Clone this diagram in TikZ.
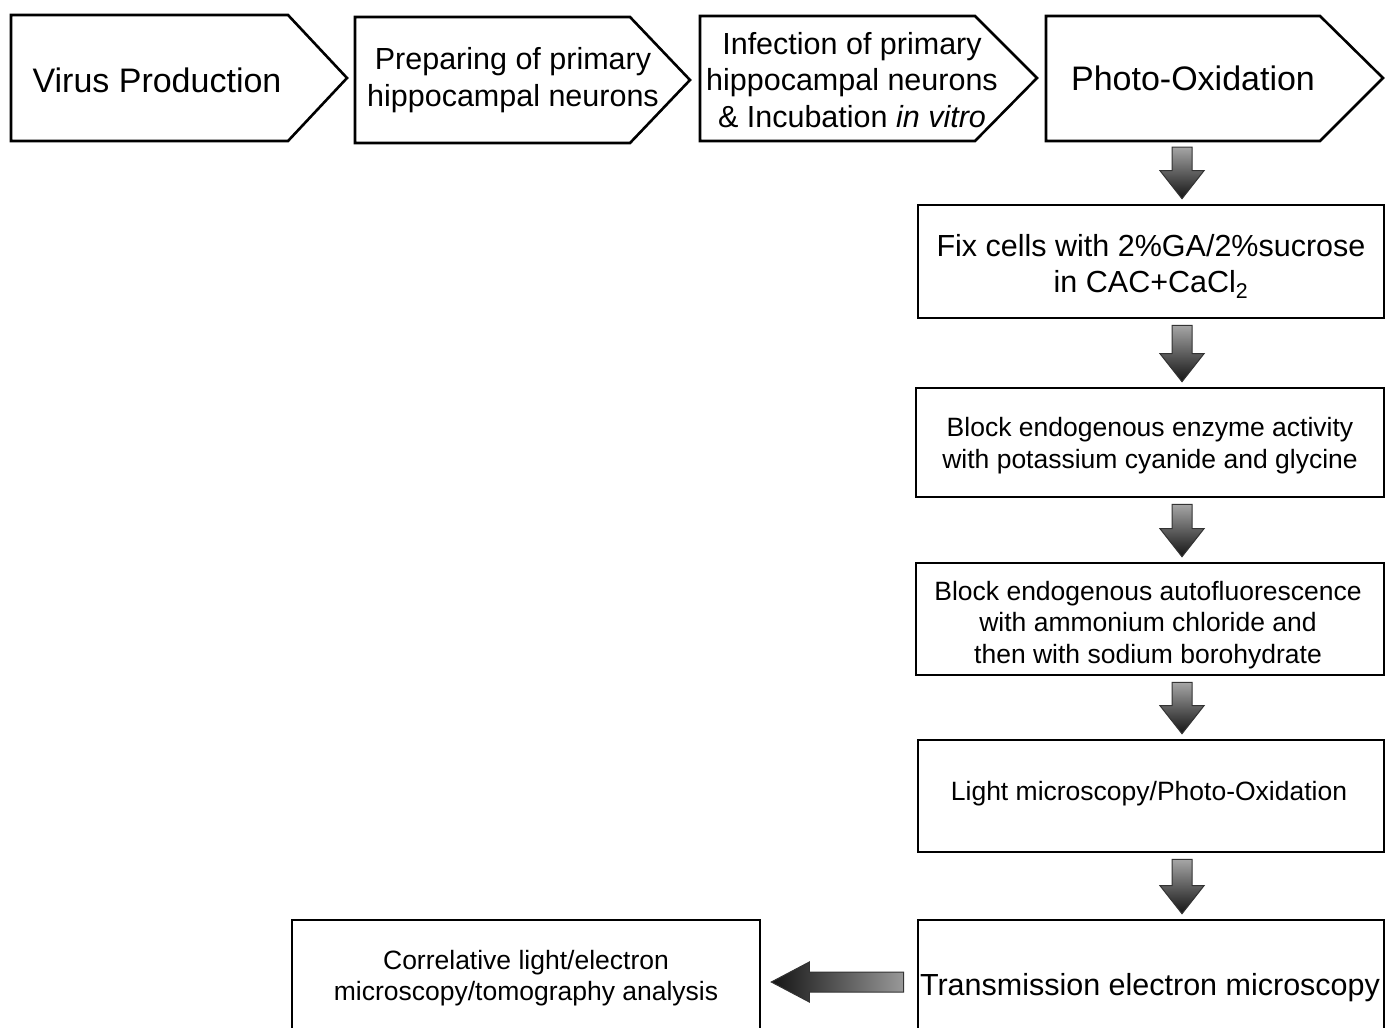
\documentclass[tikz,border=0pt]{standalone}
\usepackage{fontspec}
\setmainfont{Liberation Sans}
\usetikzlibrary{calc}
\newcommand\dnarrow[2]{%
  \path[dnshade] let \p1=(#1), \p2=(#2) in
    (\x1-10pt,\y1-6pt) -- (\x1+10pt,\y1-6pt) -- (\x1+10pt,\y2+33pt) --
    (\x1+22pt,\y2+33pt) -- (\x1,\y2+5pt) -- (\x1-22pt,\y2+33pt) --
    (\x1-10pt,\y2+33pt) -- cycle;}
\begin{document}
\begin{tikzpicture}[x=1pt,y=-1pt,
  outline/.style={draw=black, line width=2.6pt, line join=miter},
  box/.style={outline, inner sep=0pt},
  txt/.style={inner sep=0pt, align=center},
  big/.style={font=\fontsize{34}{40}\selectfont},
  mid/.style={font=\fontsize{30.5}{36.5}\selectfont},
  small/.style={font=\fontsize{26.5}{31.5}\selectfont},
  dnshade/.style={top color=black!35, bottom color=black!92, draw=black!80, line width=1pt},
  lfshade/.style={left color=black!92, right color=black!40, draw=black!80, line width=1pt}]
\useasboundingbox (0,0) rectangle (1385,1028);
\clip (0,0) rectangle (1385,1028);

% top row of pentagons
\draw[outline] (11,15) -- (288,15) -- (347,78) -- (288,141) -- (11,141) -- cycle;
\node[txt, big] (p1) at (157,80) {Virus Production};
\draw[outline] (355,17) -- (630,17) -- (690,80) -- (630,143) -- (355,143) -- cycle;
\node[txt, mid] (p2) at (513,80) {Preparing of primary\\hippocampal neurons};
\draw[outline] (700,16) -- (975,16) -- (1037,78) -- (975,141) -- (700,141) -- cycle;
\node[txt, mid] (p3) at (852,80) {Infection of primary\\hippocampal neurons\\\& Incubation \textit{in vitro}};
\draw[outline] (1046,16) -- (1320,16) -- (1383,78) -- (1320,141) -- (1046,141) -- cycle;
\node[txt, big] (p4) at (1193,78) {Photo-Oxidation};
\coordinate (p4s) at (1182,141);
\coordinate (ax) at (1182,0);

% right column boxes
\node[box, minimum width=466pt, minimum height=113pt] (A) at (1151,261.5) {};
\node[txt, mid] (At) at (1151,266.5) {Fix cells with 2\%GA/2\%sucrose\\in CAC+CaCl\textsubscript{2}};
\node[box, minimum width=468pt, minimum height=109pt] (B) at (1150,442.5) {};
\node[txt, small] (Bt) at (1150,445.5) {Block endogenous enzyme activity\\with potassium cyanide and glycine};
\node[box, minimum width=468pt, minimum height=112pt] (C) at (1150,619) {};
\node[txt, small] (Ct) at (1148,625) {Block endogenous autofluorescence\\with ammonium chloride and\\then with sodium borohydrate};
\node[box, minimum width=466pt, minimum height=112pt] (D) at (1151,796) {};
\node[txt, small] (Dt) at (1149,794) {Light microscopy/Photo-Oxidation};
\node[box, minimum width=466pt, minimum height=130pt] (E) at (1151,985) {};
\node[txt, mid] (Et) at (1150,988) {Transmission electron microscopy};
\node[box, minimum width=468pt, minimum height=112pt] (F) at (526,976) {};
\node[txt, small] (Ft) at (526,978) {Correlative light/electron\\microscopy/tomography analysis};

% block arrows
\dnarrow{p4s}{A.north -| ax}
\dnarrow{A.south -| ax}{B.north -| ax}
\dnarrow{B.south -| ax}{C.north -| ax}
\dnarrow{C.south -| ax}{D.north -| ax}
\dnarrow{D.south -| ax}{E.north -| ax}
\path[lfshade] let \p1=(E.west), \p2=(F.east) in
  (\x1-13pt,\y1+13pt) -- (\x1-13pt,\y1-7pt) -- (\x2+48pt,\y1-7pt) --
  (\x2+48pt,\y1-17pt) -- (\x2+10pt,\y1+3pt) -- (\x2+48pt,\y1+23pt) --
  (\x2+48pt,\y1+13pt) -- cycle;
\end{tikzpicture}
\end{document}
